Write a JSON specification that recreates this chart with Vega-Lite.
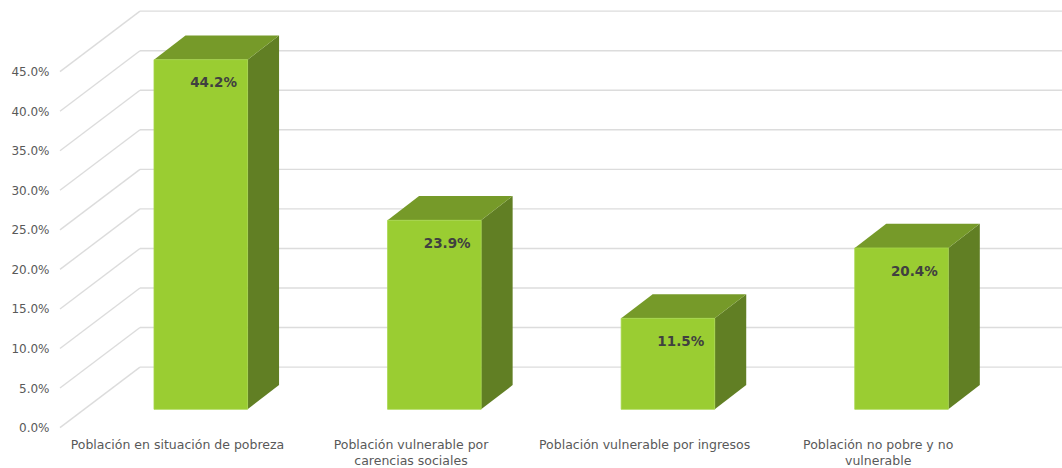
{
"$schema":"https://vega.github.io/schema/vega-lite/v6.json",
"width":1002,"height":468,"autosize":{"type":"none"},"padding":{"left":60,"top":0,"right":0,"bottom":0},
"background":"white","config":{"view":{"stroke":null},"font":"DejaVu Sans"},
"datasets":{
"bars":[
{"pos":0,"category":"Población en situación de pobreza","share":44.2},
{"pos":1,"category":"Población vulnerable por\ncarencias sociales","share":23.9},
{"pos":2,"category":"Población vulnerable por ingresos","share":11.5},
{"pos":3,"category":"Población no pobre y no\nvulnerable","share":20.4}],
"grid":[{"v":0},{"v":5},{"v":10},{"v":15},{"v":20},{"v":25},{"v":30},{"v":35},{"v":40},{"v":45}]},
"layer":[
{"data":{"name":"grid"},"transform":[{"calculate":"datum.v+7.65","as":"back"}],
"mark":{"type":"rule","color":"#dcdcdc","strokeWidth":1.4},
"encoding":{"x":{"datum":-0.6027,"type":"quantitative","scale":{"domain":[-0.6027,3.687],"nice":false,"zero":false},"axis":null},"x2":{"datum":-0.2603},
"y":{"field":"v","type":"quantitative","scale":{"domain":[-5.11,54.06],"nice":false,"zero":false},
"axis":{"title":null,"values":[0,5,10,15,20,25,30,35,40,45],"labelExpr":"format(datum.value,'.1f')+'%'","domain":false,"ticks":false,"grid":false,"labelPadding":11,"labelColor":"#595959","labelFontSize":12,"labelFont":"DejaVu Sans"}},
"y2":{"field":"back"}}},
{"data":{"name":"grid"},"transform":[{"calculate":"datum.v+7.65","as":"back"}],
"mark":{"type":"rule","color":"#dcdcdc","strokeWidth":1.4},
"encoding":{"x":{"datum":-0.2603,"type":"quantitative"},"x2":{"datum":3.687},"y":{"field":"back","type":"quantitative"}}},
{"data":{"name":"bars"},"transform":[{"calculate":"[-1,1]","as":"side"},{"flatten":["side"]},
{"calculate":"datum.side<0?datum.pos+0.2003:datum.pos+0.2003+0.1348","as":"px"},
{"calculate":"datum.side<0?2.31:2.31+3.06","as":"low"},
{"calculate":"datum.share+datum.low","as":"high"}],
"mark":{"type":"area","color":"#617f24","orient":"vertical"},
"encoding":{"x":{"field":"px","type":"quantitative"},"y":{"field":"low","type":"quantitative","stack":false},"y2":{"field":"high"},"detail":{"field":"category"}}},
{"data":{"name":"bars"},"transform":[{"calculate":"[0,1,2,3]","as":"step"},{"flatten":["step"]},
{"calculate":"datum.pos+[-0.2003,-0.2003+0.1348,0.2003,0.2003+0.1348][datum.step]","as":"px"},
{"calculate":"datum.share+2.31+[0,0,0,3.06][datum.step]","as":"low"},
{"calculate":"datum.share+2.31+[0,3.06,3.06,3.06][datum.step]","as":"high"}],
"mark":{"type":"area","color":"#769a29","orient":"vertical"},
"encoding":{"x":{"field":"px","type":"quantitative"},"y":{"field":"low","type":"quantitative","stack":false},"y2":{"field":"high"},"detail":{"field":"category"}}},
{"data":{"name":"bars"},"transform":[{"calculate":"datum.pos-0.2003","as":"x0"},{"calculate":"datum.pos+0.2003","as":"x1"},{"calculate":"2.31","as":"floor"},{"calculate":"datum.share+2.31","as":"top"}],
"mark":{"type":"rect","color":"#9acd32","stroke":"#a6d64a","strokeWidth":0.8},
"encoding":{"x":{"field":"x0","type":"quantitative"},"x2":{"field":"x1"},"y":{"field":"floor","type":"quantitative"},"y2":{"field":"top"}}},
{"data":{"name":"bars"},"transform":[{"calculate":"datum.pos+0.055","as":"lx"},{"calculate":"datum.share+2.31-3.0","as":"ly"},{"calculate":"format(datum.share,'.1f')+'%'","as":"txt"}],
"mark":{"type":"text","font":"DejaVu Sans","fontWeight":"bold","fontSize":13.5,"color":"#404040","align":"center","baseline":"middle"},
"encoding":{"x":{"field":"lx","type":"quantitative"},"y":{"field":"ly","type":"quantitative"},"text":{"field":"txt"}}},
{"data":{"name":"bars"},"transform":[{"calculate":"datum.pos-0.1","as":"lx"},{"calculate":"-2.2","as":"ly"}],
"mark":{"type":"text","font":"DejaVu Sans","fontSize":12.5,"color":"#595959","align":"center","baseline":"middle","lineBreak":"\n","lineHeight":16},
"encoding":{"x":{"field":"lx","type":"quantitative"},"y":{"field":"ly","type":"quantitative"},"text":{"field":"category"}}}
]}
